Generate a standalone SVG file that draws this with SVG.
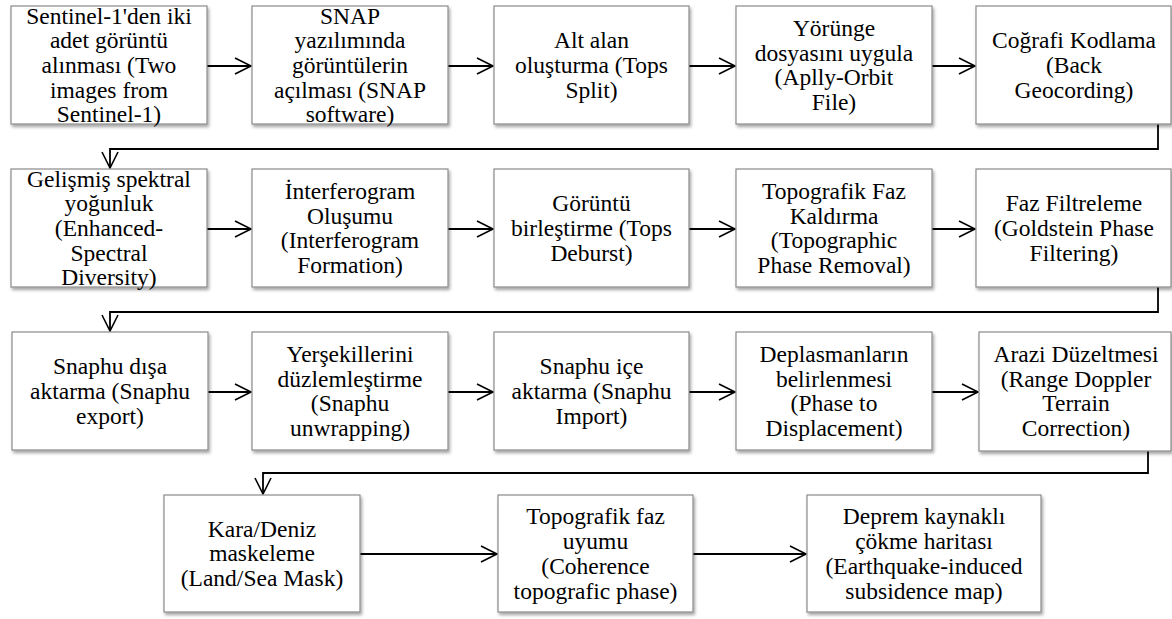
<svg xmlns="http://www.w3.org/2000/svg" width="1172" height="619" viewBox="0 0 1172 619">
<style>
.box{fill:#fff;stroke:#8a8a8a;stroke-width:1.2;filter:url(#sh)}
.t{font-family:"Liberation Serif","Times New Roman",serif;font-size:23.5px;fill:#000;text-anchor:middle}
.c{fill:none;stroke:#000;stroke-width:1.8}
</style>
<defs>
<filter id="sh" x="-10%" y="-10%" width="125%" height="130%">
<feDropShadow dx="1.5" dy="2.5" stdDeviation="1.5" flood-color="#000" flood-opacity="0.35"/>
</filter>
<marker id="ah" markerWidth="22" markerHeight="22" viewBox="-19 -11 22 22" refX="0" refY="0" orient="auto" markerUnits="userSpaceOnUse">
<path d="M-16,-8 L0,0 L-16,8" fill="none" stroke="#000" stroke-width="1.6"/>
</marker>
</defs>
<rect width="1172" height="619" fill="#fff"/>

<g id="connectors">
<path class="c" d="M207,66 H251" marker-end="url(#ah)"/>
<path class="c" d="M448,66 H493" marker-end="url(#ah)"/>
<path class="c" d="M689,66 H735" marker-end="url(#ah)"/>
<path class="c" d="M932,66 H975" marker-end="url(#ah)"/>
<path class="c" d="M1158,124 V149 H110 V168" marker-end="url(#ah)"/>
<path class="c" d="M207,229 H251" marker-end="url(#ah)"/>
<path class="c" d="M448,229 H493" marker-end="url(#ah)"/>
<path class="c" d="M689,229 H735" marker-end="url(#ah)"/>
<path class="c" d="M932,229 H975" marker-end="url(#ah)"/>
<path class="c" d="M1158,287 V312 H110 V331" marker-end="url(#ah)"/>
<path class="c" d="M208,392 H251" marker-end="url(#ah)"/>
<path class="c" d="M448,392 H493" marker-end="url(#ah)"/>
<path class="c" d="M689,392 H735" marker-end="url(#ah)"/>
<path class="c" d="M932,392 H978" marker-end="url(#ah)"/>
<path class="c" d="M1148,451 V473 H263 V494" marker-end="url(#ah)"/>
<path class="c" d="M360,554 H497" marker-end="url(#ah)"/>
<path class="c" d="M693,554 H806" marker-end="url(#ah)"/>
</g>

<g id="n1"><rect class="box" x="11" y="6" width="196" height="118"/>
<text class="t" y="23.55"><tspan x="109">Sentinel-1'den iki</tspan><tspan x="109" dy="24.7">adet görüntü</tspan><tspan x="109" dy="24.7">alınması (Two</tspan><tspan x="109" dy="24.7">images from</tspan><tspan x="109" dy="24.7">Sentinel-1)</tspan></text></g>
<g id="n2"><rect class="box" x="252" y="6" width="196" height="118"/>
<text class="t" y="23.55"><tspan x="350">SNAP</tspan><tspan x="350" dy="24.7">yazılımında</tspan><tspan x="350" dy="24.7">görüntülerin</tspan><tspan x="350" dy="24.7">açılması (SNAP</tspan><tspan x="350" dy="24.7">software)</tspan></text></g>
<g id="n3"><rect class="box" x="494" y="6" width="195" height="118"/>
<text class="t" y="48.25"><tspan x="591.5">Alt alan</tspan><tspan x="591.5" dy="24.7">oluşturma (Tops</tspan><tspan x="591.5" dy="24.7">Split)</tspan></text></g>
<g id="n4"><rect class="box" x="736" y="6" width="196" height="118"/>
<text class="t" y="35.9"><tspan x="834">Yörünge</tspan><tspan x="834" dy="24.7">dosyasını uygula</tspan><tspan x="834" dy="24.7">(Aplly-Orbit</tspan><tspan x="834" dy="24.7">File)</tspan></text></g>
<g id="n5"><rect class="box" x="976" y="6" width="195" height="118"/>
<text class="t" y="48.25"><tspan x="1074">Coğrafi Kodlama</tspan><tspan x="1074" dy="24.7">(Back</tspan><tspan x="1074" dy="24.7">Geocording)</tspan></text></g>

<g id="n6"><rect class="box" x="11" y="169" width="196" height="118"/>
<text class="t" y="186.55"><tspan x="109">Gelişmiş spektral</tspan><tspan x="109" dy="24.7">yoğunluk</tspan><tspan x="109" dy="24.7">(Enhanced-</tspan><tspan x="109" dy="24.7">Spectral</tspan><tspan x="109" dy="24.7">Diversity)</tspan></text></g>
<g id="n7"><rect class="box" x="252" y="169" width="196" height="118"/>
<text class="t" y="198.9"><tspan x="350">İnterferogram</tspan><tspan x="350" dy="24.7">Oluşumu</tspan><tspan x="350" dy="24.7">(Interferogram</tspan><tspan x="350" dy="24.7">Formation)</tspan></text></g>
<g id="n8"><rect class="box" x="494" y="169" width="195" height="118"/>
<text class="t" y="211.25"><tspan x="591.5">Görüntü</tspan><tspan x="591.5" dy="24.7">birleştirme (Tops</tspan><tspan x="591.5" dy="24.7">Deburst)</tspan></text></g>
<g id="n9"><rect class="box" x="736" y="169" width="196" height="118"/>
<text class="t" y="198.9"><tspan x="834">Topografik Faz</tspan><tspan x="834" dy="24.7">Kaldırma</tspan><tspan x="834" dy="24.7">(Topographic</tspan><tspan x="834" dy="24.7">Phase Removal)</tspan></text></g>
<g id="n10"><rect class="box" x="976" y="169" width="195" height="118"/>
<text class="t" y="211.25"><tspan x="1074">Faz Filtreleme</tspan><tspan x="1074" dy="24.7">(Goldstein Phase</tspan><tspan x="1074" dy="24.7">Filtering)</tspan></text></g>

<g id="n11"><rect class="box" x="12" y="332" width="196" height="118"/>
<text class="t" y="374.25"><tspan x="110">Snaphu dışa</tspan><tspan x="110" dy="24.7">aktarma (Snaphu</tspan><tspan x="110" dy="24.7">export)</tspan></text></g>
<g id="n12"><rect class="box" x="252" y="332" width="196" height="118"/>
<text class="t" y="361.9"><tspan x="350">Yerşekillerini</tspan><tspan x="350" dy="24.7">düzlemleştirme</tspan><tspan x="350" dy="24.7">(Snaphu</tspan><tspan x="350" dy="24.7">unwrapping)</tspan></text></g>
<g id="n13"><rect class="box" x="494" y="332" width="195" height="118"/>
<text class="t" y="374.25"><tspan x="591.5">Snaphu içe</tspan><tspan x="591.5" dy="24.7">aktarma (Snaphu</tspan><tspan x="591.5" dy="24.7">Import)</tspan></text></g>
<g id="n14"><rect class="box" x="736" y="332" width="196" height="118"/>
<text class="t" y="361.9"><tspan x="834">Deplasmanların</tspan><tspan x="834" dy="24.7">belirlenmesi</tspan><tspan x="834" dy="24.7">(Phase to</tspan><tspan x="834" dy="24.7">Displacement)</tspan></text></g>
<g id="n15"><rect class="box" x="979" y="332" width="192" height="119"/>
<text class="t" y="361.9"><tspan x="1076">Arazi Düzeltmesi</tspan><tspan x="1076" dy="24.7">(Range Doppler</tspan><tspan x="1076" dy="24.7">Terrain</tspan><tspan x="1076" dy="24.7">Correction)</tspan></text></g>

<g id="n16"><rect class="box" x="164" y="495" width="196" height="117"/>
<text class="t" y="536.75"><tspan x="262">Kara/Deniz</tspan><tspan x="262" dy="24.7">maskeleme</tspan><tspan x="262" dy="24.7">(Land/Sea Mask)</tspan></text></g>
<g id="n17"><rect class="box" x="498" y="495" width="195" height="117"/>
<text class="t" y="524.4"><tspan x="595.5">Topografik faz</tspan><tspan x="595.5" dy="24.7">uyumu</tspan><tspan x="595.5" dy="24.7">(Coherence</tspan><tspan x="595.5" dy="24.7">topografic phase)</tspan></text></g>
<g id="n18"><rect class="box" x="807" y="495" width="234" height="117"/>
<text class="t" y="524.4"><tspan x="924">Deprem kaynaklı</tspan><tspan x="924" dy="24.7">çökme haritası</tspan><tspan x="924" dy="24.7">(Earthquake-induced</tspan><tspan x="924" dy="24.7">subsidence map)</tspan></text></g>
</svg>
